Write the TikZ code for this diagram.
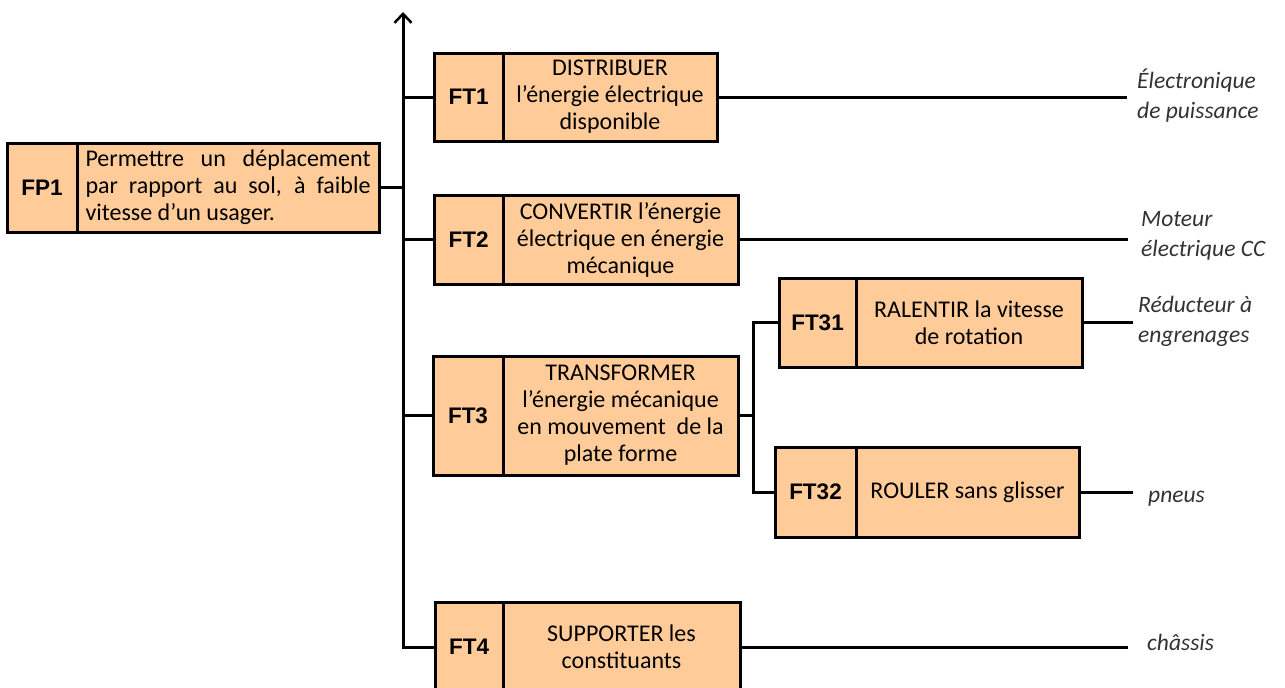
\documentclass[tikz,border=0pt]{standalone}
\usepackage{fontspec}
\setmainfont{Carlito}
\newfontfamily\idfont{Liberation Sans}
\usetikzlibrary{arrows.meta,shadows}
\definecolor{boxfill}{RGB}{255,204,153}
\tikzset{
  every picture/.style={x=1pt,y=-1pt},
  conn/.style={line width=3pt},
  idbox/.style={draw, line width=3pt, fill=boxfill, anchor=north west, inner sep=0pt, outer sep=0pt,
    font=\idfont\bfseries\fontsize{22.5}{25}\selectfont,
    drop shadow={opacity=0.25, shadow xshift=1.5pt, shadow yshift=-1.5pt}},
  txtbox/.style={draw, line width=3pt, fill=boxfill, anchor=north west, inner sep=0pt, outer sep=0pt,
    align=center, font=\fontsize{24}{27}\selectfont, text=black,
    drop shadow={opacity=0.25, shadow xshift=1.5pt, shadow yshift=-1.5pt}},
  sol/.style={inner sep=0pt, align=left, font=\itshape\fontsize{23.5}{30}\selectfont, text=black!80}
}
\begin{document}
\begin{tikzpicture}
\clip (0,0) rectangle (1285,688);
\fill[white] (0,0) rectangle (1285,688);

% axis
\coordinate (top) at (403,12);
\coordinate (split) at (753,0);

% FP1
\node[idbox, minimum width=70, minimum height=89] (fp1i) at (7,143) {FP1};
\node[txtbox, minimum width=302, minimum height=89, align=left] (fp1t) at (fp1i.north east)
  {\makebox[285pt][s]{Permettre un déplacement}\\
   \makebox[285pt][s]{par rapport au sol, à faible}\\
   \makebox[285pt][l]{vitesse d’un usager.}};

% FT1
\node[idbox, minimum width=69, minimum height=88] (ft1i) at (434,53) {FT1};
\node[txtbox, minimum width=214, minimum height=88] (ft1t) at (ft1i.north east)
  {DISTRIBUER\\l’énergie électrique\\disponible};

% FT2
\node[idbox, minimum width=69, minimum height=89] (ft2i) at (434,195) {FT2};
\node[txtbox, minimum width=235, minimum height=89] (ft2t) at (ft2i.north east)
  {CONVERTIR l’énergie\\électrique en énergie\\mécanique};

% FT3
\node[idbox, minimum width=70, minimum height=119] (ft3i) at (433,356) {FT3};
\node[txtbox, minimum width=235, minimum height=119] (ft3t) at (ft3i.north east)
  {TRANSFORMER\\l’énergie mécanique\\en mouvement \ de la\\plate forme};

% FT31
\node[idbox, minimum width=77, minimum height=89] (ft31i) at (779,278) {FT31};
\node[txtbox, minimum width=226, minimum height=89] (ft31t) at (ft31i.north east)
  {RALENTIR la vitesse\\de rotation};

% FT32
\node[idbox, minimum width=81, minimum height=90] (ft32i) at (775,447) {FT32};
\node[txtbox, minimum width=223, minimum height=90] (ft32t) at (ft32i.north east)
  {ROULER sans glisser};

% FT4
\node[idbox, minimum width=68, minimum height=90] (ft4i) at (435,602) {FT4};
\node[txtbox, minimum width=237, minimum height=90] (ft4t) at (ft4i.north east)
  {SUPPORTER les\\constituants};

% main axis with arrow
\draw[conn, -{Straight Barb[length=9pt,width=17pt,line width=2.5pt]}] (ft4i.west) -- (top |- ft4i.west) -- (top);

% branches from axis
\draw[conn] (fp1t.east) -- (fp1t.east -| top);
\draw[conn] (ft1i.west) -- (ft1i.west -| top);
\draw[conn] (ft2i.west) -- (ft2i.west -| top);
\draw[conn] (ft3i.west) -- (ft3i.west -| top);

% FT3 split
\draw[conn] (ft3t.east) -- (ft3t.east -| split);
\draw[conn] (ft31i.west) -- (ft31i.west -| split) -- (ft32i.west -| split) -- (ft32i.west);

% solution lines
\coordinate (e1) at (1127,97);
\coordinate (e2) at (1128,240);
\coordinate (e31) at (1133,318);
\coordinate (e32) at (1133,500);
\coordinate (e4) at (1128,647);
\draw[conn] (ft1t.east) -- (e1 |- ft1t.east);
\draw[conn] (ft2t.east) -- (e2 |- ft2t.east);
\draw[conn] (ft31t.east) -- (e31 |- ft31t.east);
\draw[conn] (ft32t.east) -- (e32 |- ft32t.east);
\draw[conn] (ft4t.east) -- (e4 |- ft4t.east);

% solutions
\node[sol, anchor=west] (s1) at (1137,96) {Électronique\\de puissance};
\node[sol, anchor=west] (s2) at (1141,236) {Moteur\\électrique CC};
\node[sol, anchor=west] (s31) at (1138,321) {Réducteur à\\engrenages};
\node[sol, anchor=base west] (s32) at (1148,502) {pneus};
\node[sol, anchor=base west] (s4) at (1147,650) {châssis};
\end{tikzpicture}
\end{document}
